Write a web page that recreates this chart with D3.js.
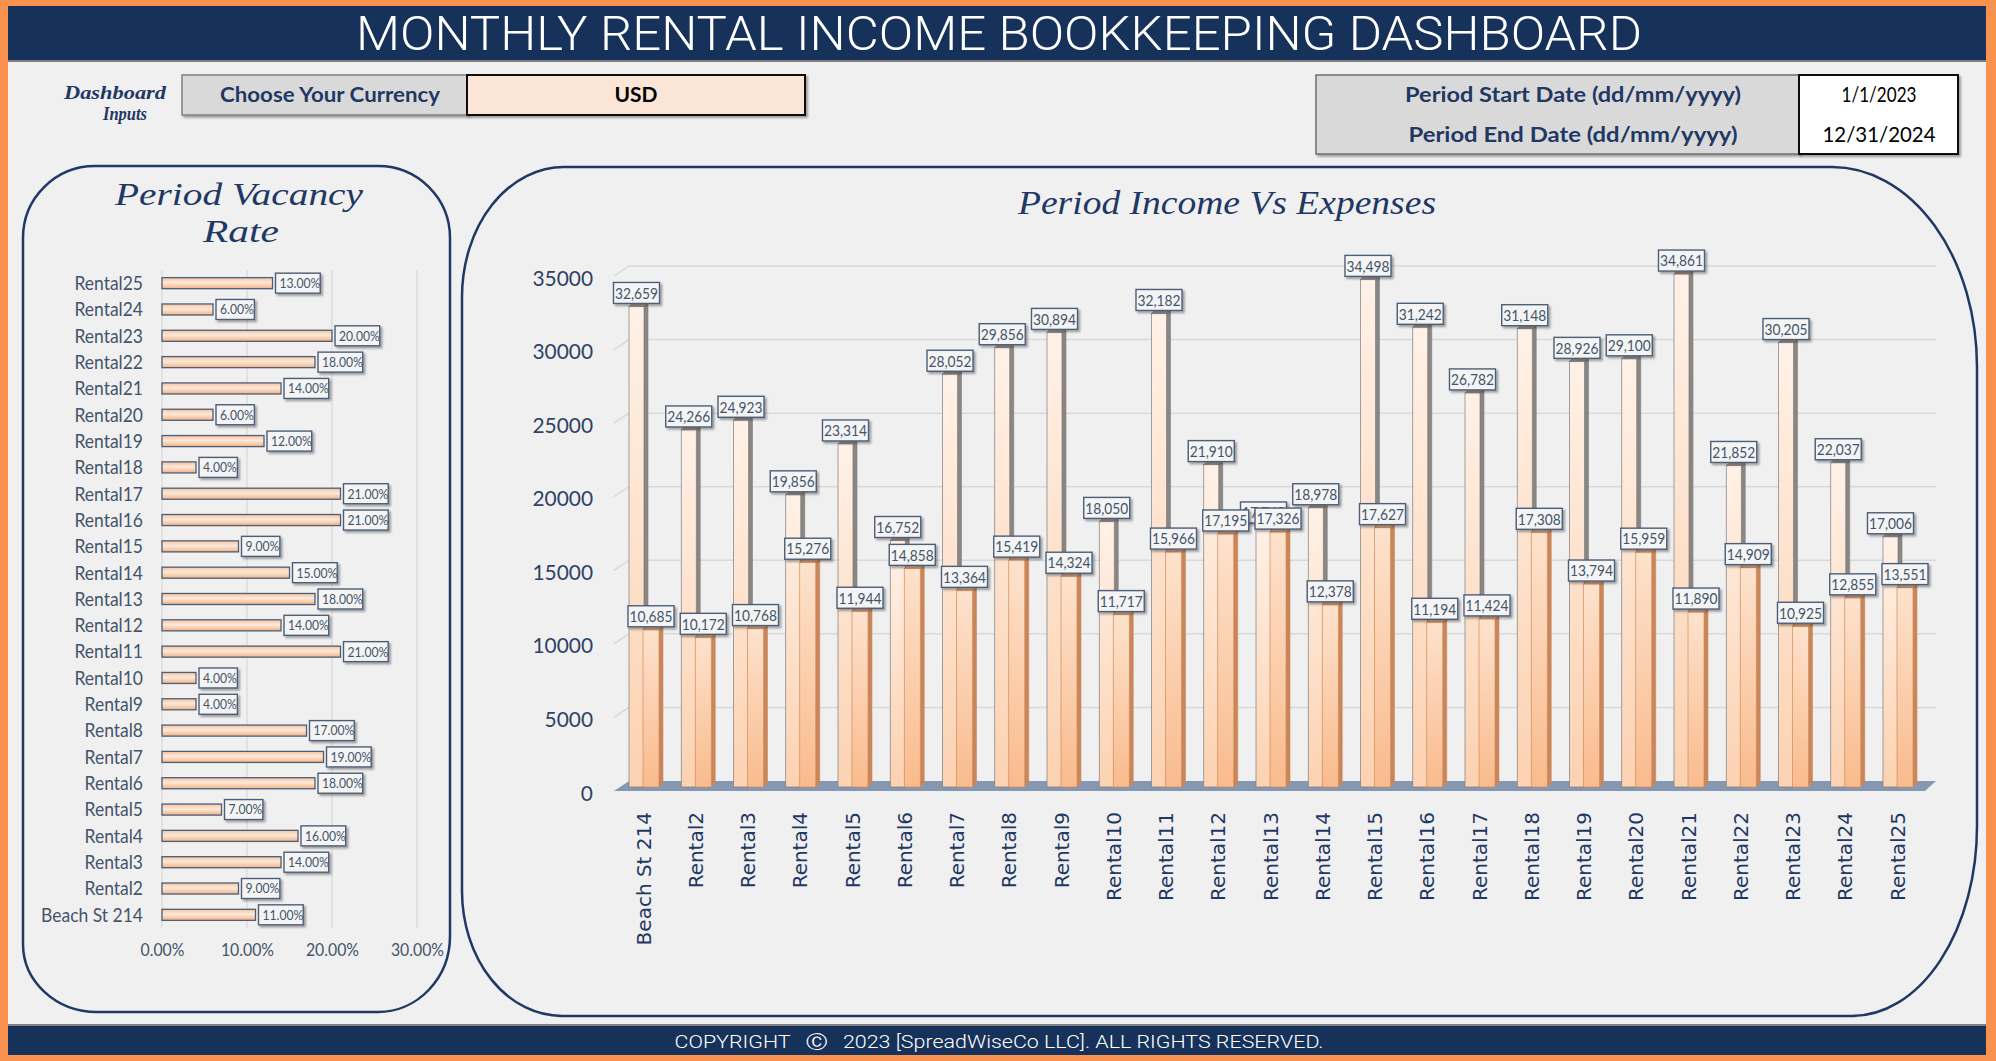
<!DOCTYPE html>
<html>
<head>
<meta charset="utf-8">
<script src="https://cdn.jsdelivr.net/npm/d3@7"></script>
<style>
  body { margin: 0; background: #f0f0f0; }
  svg { display: block; }
</style>
</head>
<body>
<div id="chart"></div>
<script>
// ---- data ----
const properties = ["Beach St 214", "Rental2", "Rental3", "Rental4", "Rental5", "Rental6", "Rental7",
  "Rental8", "Rental9", "Rental10", "Rental11", "Rental12", "Rental13", "Rental14", "Rental15",
  "Rental16", "Rental17", "Rental18", "Rental19", "Rental20", "Rental21", "Rental22", "Rental23",
  "Rental24", "Rental25"];

const vacancyRate = [0.11, 0.09, 0.14, 0.16, 0.07, 0.18, 0.19, 0.17, 0.04, 0.04, 0.21, 0.14, 0.18,
  0.15, 0.09, 0.21, 0.21, 0.04, 0.12, 0.06, 0.14, 0.18, 0.20, 0.06, 0.13];

// Rental13 income label is hidden behind the expense label in the original -> estimated
const income = [32659, 24266, 24923, 19856, 23314, 16752, 28052, 29856, 30894, 18050, 32182, 21910,
  17740, 18978, 34498, 31242, 26782, 31148, 28926, 29100, 34861, 21852, 30205, 22037, 17006];

const expenses = [10685, 10172, 10768, 15276, 11944, 14858, 13364, 15419, 14324, 11717, 15966, 17195,
  17326, 12378, 17627, 11194, 11424, 17308, 13794, 15959, 11890, 14909, 10925, 12855, 13551];

const vacancyTicks = [0, 0.10, 0.20, 0.30];
const incomeTicks = [0, 5000, 10000, 15000, 20000, 25000, 30000, 35000];

const W = 1996, H = 1061;
const navy = "#16325a", textBlue = "#1f3864", labelGray = "#44546a";
const script = "'Liberation Serif', 'DejaVu Serif', serif";
const sans = "Lato, 'Open Sans', sans-serif";

const svg = d3.select("#chart").append("svg")
  .attr("width", W)
  .attr("height", H);

const defs = svg.append("defs");

const shadow = defs.append("filter").attr("id", "shadow")
  .attr("x", "-20%").attr("y", "-20%").attr("width", "140%").attr("height", "150%");
shadow.append("feDropShadow")
  .attr("dx", 2).attr("dy", 2).attr("stdDeviation", 1.2)
  .attr("flood-color", "#000").attr("flood-opacity", 0.35);

function vGrad(id, stops) {
  const g = defs.append("linearGradient").attr("id", id)
    .attr("x1", 0).attr("y1", 0).attr("x2", 0).attr("y2", 1);
  stops.forEach(s => g.append("stop").attr("offset", s[0]).attr("stop-color", s[1]));
}
vGrad("hbar", [[0, "#f6c4a0"], [0.45, "#fde9da"], [1, "#f3b184"]]);
vGrad("incFace", [[0, "#fff1e7"], [1, "#fcd2b1"]]);
vGrad("expFace", [[0, "#fde2cd"], [1, "#f9bb8d"]]);

// squeeze a text to a share of its natural width (Calibri is narrower than Lato)
function squeeze(sel, f) {
  sel.each(function () {
    const w = this.getComputedTextLength();
    d3.select(this).attr("textLength", w * f).attr("lengthAdjust", "spacingAndGlyphs");
  });
}
function fitTo(sel, w) {
  sel.attr("textLength", w).attr("lengthAdjust", "spacingAndGlyphs");
}

// ---- frame, header, footer ----
svg.append("rect").attr("width", W).attr("height", H).attr("fill", "#f9914f");
svg.append("rect").attr("x", 8).attr("y", 6).attr("width", 1978).attr("height", 1049).attr("fill", "#f0f0f0");

svg.append("rect").attr("x", 8).attr("y", 6).attr("width", 1978).attr("height", 54).attr("fill", navy);
svg.append("line").attr("x1", 8).attr("x2", 1986).attr("y1", 61).attr("y2", 61)
  .attr("stroke", "#5a5a5a").attr("stroke-width", 1.5);

svg.append("text")
  .attr("x", 999).attr("y", 50)
  .attr("text-anchor", "middle")
  .attr("font-family", "'Liberation Sans Narrow', Roboto, 'Liberation Sans', sans-serif")
  .attr("font-weight", 300)
  .attr("font-size", 48)
  .attr("fill", "#fff")
  .text("MONTHLY RENTAL INCOME BOOKKEEPING DASHBOARD")
  .call(fitTo, 1286);

svg.append("rect").attr("x", 8).attr("y", 1026).attr("width", 1978).attr("height", 29).attr("fill", navy);
svg.append("line").attr("x1", 8).attr("x2", 1986).attr("y1", 1025).attr("y2", 1025)
  .attr("stroke", "#5a5a5a").attr("stroke-width", 1.5);
svg.append("text")
  .attr("x", 999).attr("y", 1048)
  .attr("text-anchor", "middle")
  .attr("font-family", "'Liberation Sans Narrow', Roboto, 'Liberation Sans', sans-serif")
  .attr("font-weight", 300)
  .attr("font-size", 18)
  .attr("fill", "#fff")
  .style("white-space", "pre")
  .text("COPYRIGHT   \u24B8   2023 [SpreadWiseCo LLC]. ALL RIGHTS RESERVED.")
  .call(fitTo, 649);

// ---- inputs ----
svg.append("text").attr("x", 115).attr("y", 99).attr("text-anchor", "middle")
  .attr("font-family", script).attr("font-style", "italic").attr("font-weight", "bold")
  .attr("font-size", 19).attr("fill", textBlue).text("Dashboard").call(fitTo, 102);
svg.append("text").attr("x", 125).attr("y", 120).attr("text-anchor", "middle")
  .attr("font-family", script).attr("font-style", "italic").attr("font-weight", "bold")
  .attr("font-size", 19).attr("fill", textBlue).text("Inputs").call(fitTo, 44);

svg.append("rect").attr("x", 182).attr("y", 75).attr("width", 285).attr("height", 40)
  .attr("fill", "#d9d9d9").attr("stroke", "#7f7f7f").attr("stroke-width", 1.5).attr("filter", "url(#shadow)");
svg.append("rect").attr("x", 467).attr("y", 75).attr("width", 338).attr("height", 40)
  .attr("fill", "#fbe5d6").attr("stroke", "#111").attr("stroke-width", 2).attr("filter", "url(#shadow)");
svg.append("text").attr("x", 330).attr("y", 102).attr("text-anchor", "middle")
  .attr("font-family", sans).attr("font-weight", "bold").attr("font-size", 20)
  .attr("fill", textBlue).text("Choose Your Currency").call(fitTo, 220);
svg.append("text").attr("x", 636).attr("y", 102).attr("text-anchor", "middle")
  .attr("font-family", sans).attr("font-weight", "bold").attr("font-size", 20)
  .attr("fill", "#000").text("USD").call(fitTo, 43);

svg.append("rect").attr("x", 1316).attr("y", 75).attr("width", 483).attr("height", 79)
  .attr("fill", "#d9d9d9").attr("stroke", "#6f6f6f").attr("stroke-width", 1.5).attr("filter", "url(#shadow)");
svg.append("rect").attr("x", 1799).attr("y", 75).attr("width", 159).attr("height", 79)
  .attr("fill", "#fff").attr("stroke", "#111").attr("stroke-width", 2).attr("filter", "url(#shadow)");
[["Period Start Date (dd/mm/yyyy)", 102, 336, "1/1/2023", 75],
 ["Period End Date (dd/mm/yyyy)", 142, 329, "12/31/2024", 113]].forEach(r => {
  svg.append("text").attr("x", 1573).attr("y", r[1]).attr("text-anchor", "middle")
    .attr("font-family", sans).attr("font-weight", "bold").attr("font-size", 20)
    .attr("fill", textBlue).text(r[0]).call(fitTo, r[2]);
  svg.append("text").attr("x", 1879).attr("y", r[1]).attr("text-anchor", "middle")
    .attr("font-family", sans).attr("font-size", 22)
    .attr("fill", "#000").text(r[3]).call(fitTo, r[4]);
});

// ---- panels ----
function panelPath(x, y, w, h, tl, tr, br, bl) {
  return `M${x + tl[0]},${y} H${x + w - tr[0]} A${tr[0]},${tr[1]} 0 0 1 ${x + w},${y + tr[1]}
    V${y + h - br[1]} A${br[0]},${br[1]} 0 0 1 ${x + w - br[0]},${y + h}
    H${x + bl[0]} A${bl[0]},${bl[1]} 0 0 1 ${x},${y + h - bl[1]}
    V${y + tl[1]} A${tl[0]},${tl[1]} 0 0 1 ${x + tl[0]},${y} Z`;
}
svg.append("path")
  .attr("d", panelPath(23, 166, 427, 846, [72, 72], [72, 72], [72, 76], [74, 68]))
  .attr("fill", "none").attr("stroke", textBlue).attr("stroke-width", 2.5);
svg.append("path")
  .attr("d", panelPath(462, 167, 1515, 849, [102, 130], [145, 200], [125, 190], [100, 125]))
  .attr("fill", "none").attr("stroke", textBlue).attr("stroke-width", 2.5);

// ---- vacancy chart ----
svg.append("text").attr("x", 239).attr("y", 205).attr("text-anchor", "middle")
  .attr("font-family", script).attr("font-style", "italic").attr("font-size", 32)
  .attr("fill", textBlue).text("Period Vacancy").call(fitTo, 248);
svg.append("text").attr("x", 241).attr("y", 242).attr("text-anchor", "middle")
  .attr("font-family", script).attr("font-style", "italic").attr("font-size", 32)
  .attr("fill", textBlue).text("Rate").call(fitTo, 76);

const vac = properties.map((p, i) => ({ name: p, rate: vacancyRate[i] }));

const xVac = d3.scaleLinear().domain([0, 0.3]).range([162, 417]);
const yVac = d3.scaleBand()
  .domain(properties.slice().reverse())
  .range([270, 928])
  .paddingInner(0.58)
  .paddingOuter(0.29);

svg.append("g").selectAll("line")
  .data(vacancyTicks)
  .join("line")
  .attr("x1", d => xVac(d)).attr("x2", d => xVac(d))
  .attr("y1", 270).attr("y2", 928)
  .attr("stroke", "#d9d9d9").attr("stroke-width", 1.2);

const vacX = svg.append("g")
  .attr("transform", "translate(0,944)")
  .call(d3.axisBottom(xVac).tickValues(vacancyTicks).tickFormat(d3.format(".2%")).tickSize(0).tickPadding(0));
vacX.select(".domain").remove();
vacX.selectAll("text").attr("font-family", sans).attr("font-size", 17).attr("fill", labelGray)
  .call(squeeze, 0.93);

const vacY = svg.append("g")
  .attr("transform", "translate(143,0)")
  .call(d3.axisLeft(yVac).tickSize(0).tickPadding(0));
vacY.select(".domain").remove();
vacY.selectAll("text").attr("font-family", sans).attr("font-size", 19).attr("fill", labelGray)
  .attr("dy", "0.36em").call(squeeze, 0.92);

svg.append("g").selectAll("rect")
  .data(vac)
  .join("rect")
  .attr("x", xVac(0))
  .attr("y", d => yVac(d.name))
  .attr("width", d => xVac(d.rate) - xVac(0))
  .attr("height", yVac.bandwidth())
  .attr("fill", "url(#hbar)")
  .attr("stroke", "#4d5e78")
  .attr("stroke-width", 1.3);

const vacLab = svg.append("g").selectAll("g")
  .data(vac)
  .join("g")
  .attr("transform", d => `translate(${xVac(d.rate) + 3},${yVac(d.name) + yVac.bandwidth() / 2})`);
vacLab.append("text")
  .attr("x", 4).attr("dy", "0.36em")
  .attr("font-family", sans).attr("font-size", 13.5).attr("fill", labelGray)
  .text(d => d3.format(".2%")(d.rate))
  .call(squeeze, 0.9);
vacLab.insert("rect", "text")
  .attr("y", -10).attr("height", 20)
  .attr("width", function () { return this.parentNode.querySelector("text").getComputedTextLength() * 0.9 + 8; })
  .attr("fill", "#f4f4f4").attr("stroke", "#4d5e78").attr("stroke-width", 1.4)
  .attr("filter", "url(#shadow)");

// ---- income vs expenses chart ----
svg.append("text").attr("x", 1227).attr("y", 214).attr("text-anchor", "middle")
  .attr("font-family", script).attr("font-style", "italic").attr("font-size", 34)
  .attr("fill", textBlue).text("Period Income Vs Expenses").call(fitTo, 418);

const rows = properties.map((p, i) => ({ name: p, income: income[i], expenses: expenses[i] }));

const xCat = d3.scalePoint().domain(properties).range([643, 1897]);
const yAmt = d3.scaleLinear().domain([0, 35000]).range([787, 272]);

const depth = { dx: 15, dy: 10 };     // wall/floor perspective
const bar = { dx: 4, dy: 4 };         // column side/top faces

// walls: gridlines on the back wall and a short stroke on the side wall
const grid = svg.append("g").attr("stroke", "#d9d9d9").attr("stroke-width", 1.5);
grid.selectAll(".back")
  .data(incomeTicks.slice(1))
  .join("line")
  .attr("x1", 614 + depth.dx).attr("x2", 1936)
  .attr("y1", d => yAmt(d) - 6).attr("y2", d => yAmt(d) - 6);
grid.selectAll(".side")
  .data(incomeTicks.slice(1))
  .join("line")
  .attr("x1", 614).attr("x2", 614 + depth.dx)
  .attr("y1", d => yAmt(d) + 4).attr("y2", d => yAmt(d) - 6);

// floor
const f0 = yAmt(0);
svg.append("polygon")
  .attr("points", [[614, f0 + 4], [1925, f0 + 4], [1925 + 11, f0 - 6], [614 + depth.dx, f0 - 6]].join(" "))
  .attr("fill", "#8698b1");

const yAxis = svg.append("g")
  .attr("transform", "translate(593,0)")
  .call(d3.axisLeft(yAmt).tickValues(incomeTicks).tickFormat(d3.format("d")).tickSize(0).tickPadding(0));
yAxis.select(".domain").remove();
yAxis.selectAll("text").attr("font-family", sans).attr("font-size", 22).attr("fill", "#2f4266")
  .attr("y", 6).call(squeeze, 0.95);

const xAxis = svg.append("g")
  .attr("transform", "translate(0,812)")
  .call(d3.axisBottom(xCat).tickSize(0).tickPadding(0));
xAxis.select(".domain").remove();
xAxis.selectAll("text")
  .attr("transform", "rotate(-90)")
  .attr("text-anchor", "end")
  .attr("x", 0).attr("y", 0).attr("dy", "0.36em")
  .attr("font-family", "'DejaVu Sans', Verdana, sans-serif")
  .attr("font-size", 20)
  .attr("fill", textBlue);

function column(g, x0, w, v, face, side, top, edge) {
  const yt = yAmt(v), yb = yAmt(0);
  g.append("polygon")
    .attr("points", [[x0 + w, yb], [x0 + w + bar.dx, yb - bar.dy], [x0 + w + bar.dx, yt - bar.dy], [x0 + w, yt]].join(" "))
    .attr("fill", side).attr("stroke", edge).attr("stroke-width", 0.6);
  g.append("polygon")
    .attr("points", [[x0, yt], [x0 + bar.dx, yt - bar.dy], [x0 + w + bar.dx, yt - bar.dy], [x0 + w, yt]].join(" "))
    .attr("fill", top).attr("stroke", edge).attr("stroke-width", 0.6);
  g.append("rect")
    .attr("x", x0).attr("y", yt).attr("width", w).attr("height", yb - yt)
    .attr("fill", face).attr("stroke", edge).attr("stroke-width", 0.7);
}

svg.append("g").selectAll("g")
  .data(rows)
  .join("g")
  .each(function (d) {
    const g = d3.select(this), c = xCat(d.name);
    column(g, c - 14, 15, d.income, "url(#incFace)", "#8c8682", "#a59c96", "#7d7d7d");
    column(g, c, 16, d.expenses, "url(#expFace)", "#c8865a", "#e6b08a", "#d08a58");
  });

// data labels: income first, expenses drawn over them
function amountLabels(key, dxCenter) {
  const lab = svg.append("g").selectAll("g")
    .data(rows)
    .join("g")
    .attr("transform", d => `translate(${xCat(d.name) + dxCenter},${yAmt(d[key]) - 3 - 10.5})`);
  lab.append("text")
    .attr("text-anchor", "middle").attr("dy", "0.36em")
    .attr("font-family", sans).attr("font-size", 16).attr("fill", labelGray)
    .text(d => d3.format(",")(d[key]))
    .call(squeeze, 0.86);
  lab.insert("rect", "text")
    .attr("y", -10.5).attr("height", 21)
    .each(function () {
      const w = this.parentNode.querySelector("text").getComputedTextLength() * 0.86 + 9;
      d3.select(this).attr("x", -w / 2).attr("width", w);
    })
    .attr("fill", "#f4f4f4").attr("stroke", "#4d5e78").attr("stroke-width", 1.4)
    .attr("filter", "url(#shadow)");
}
amountLabels("income", -6.5);
amountLabels("expenses", 8);
</script>
</body>
</html>
